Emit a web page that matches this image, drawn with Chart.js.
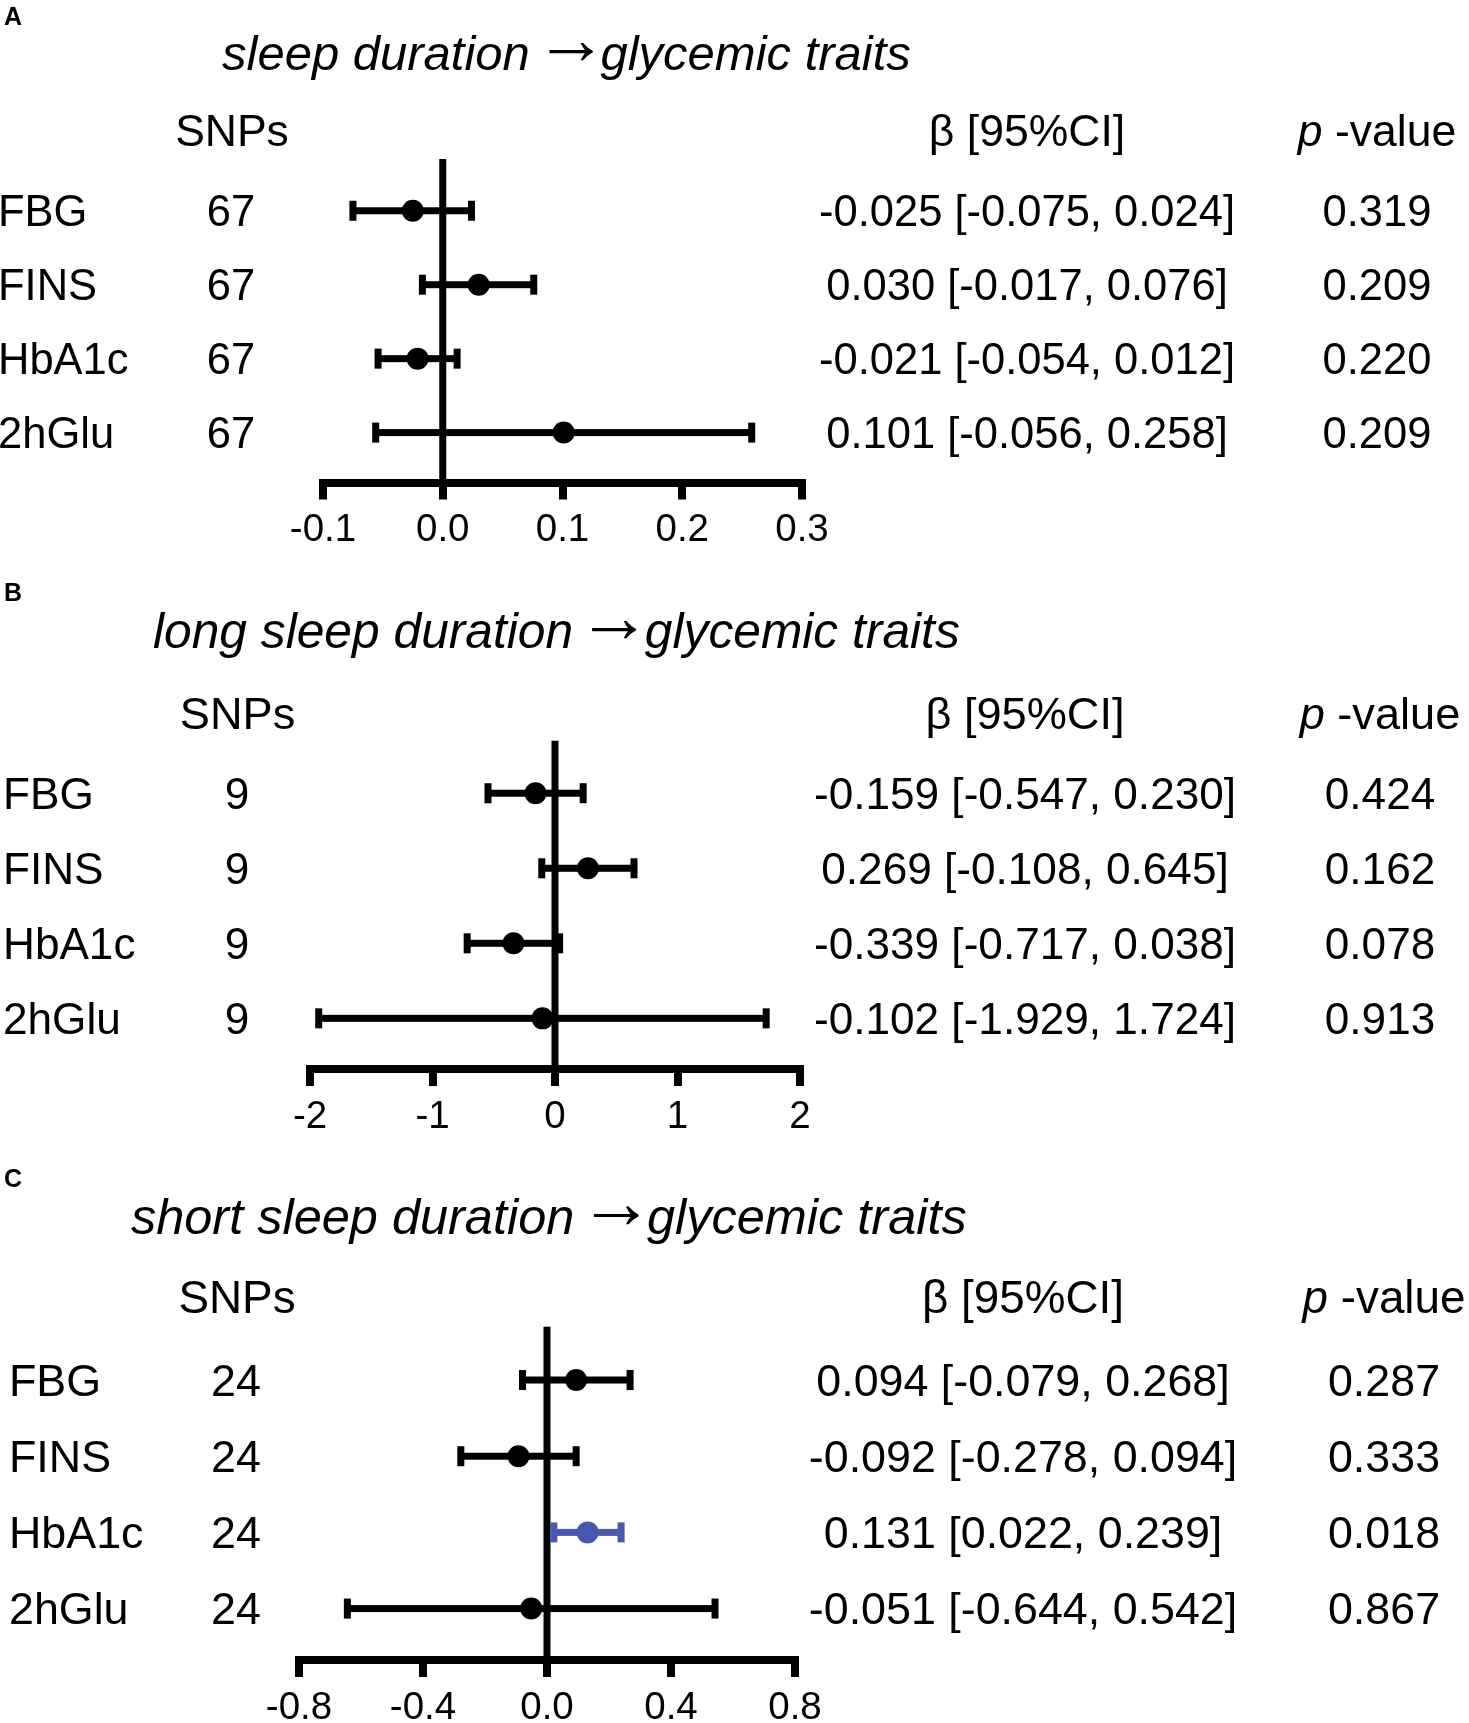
<!DOCTYPE html>
<html><head><meta charset="utf-8">
<script src="https://cdn.jsdelivr.net/npm/chart.js@4.4.1/dist/chart.umd.min.js"></script>
<style>
html,body{margin:0;padding:0;background:#fff;}
body{width:1469px;height:1723px;position:relative;overflow:hidden;}
canvas{position:absolute;left:0;}
</style></head><body>
<canvas id="cA"></canvas><canvas id="cB"></canvas><canvas id="cC"></canvas>
<script>
// ---------- data ----------
const traits = ['FBG', 'FINS', 'HbA1c', '2hGlu'];

const titleCauseA = 'sleep duration';
const titleCauseB = 'long sleep duration';
const titleCauseC = 'short sleep duration';
const titleArrow = '\u2192';
const titleOutcome = 'glycemic traits';

const snpsA = [67, 67, 67, 67];
const betaA = [-0.025, 0.030, -0.021, 0.101];
const lowA  = [-0.075, -0.017, -0.054, -0.056];
const highA = [0.024, 0.076, 0.012, 0.258];
const pA    = ['0.319', '0.209', '0.220', '0.209'];
const tickValsA = [-0.1, 0, 0.1, 0.2, 0.3];
const tickLabelsA = ['-0.1', '0.0', '0.1', '0.2', '0.3'];

const snpsB = [9, 9, 9, 9];
const betaB = [-0.159, 0.269, -0.339, -0.102];
const lowB  = [-0.547, -0.108, -0.717, -1.929];
const highB = [0.230, 0.645, 0.038, 1.724];
const pB    = ['0.424', '0.162', '0.078', '0.913'];
const tickValsB = [-2, -1, 0, 1, 2];
const tickLabelsB = ['-2', '-1', '0', '1', '2'];

const snpsC = [24, 24, 24, 24];
const betaC = [0.094, -0.092, 0.131, -0.051];
const lowC  = [-0.079, -0.278, 0.022, -0.644];
const highC = [0.268, 0.094, 0.239, 0.542];
const pC    = ['0.287', '0.333', '0.018', '0.867'];
const tickValsC = [-0.8, -0.4, 0, 0.4, 0.8];
const tickLabelsC = ['-0.8', '-0.4', '0.0', '0.4', '0.8'];
const significantC = [false, false, true, false];

// ---------- style / layout ----------
const BLACK = '#000000';
const BLUE = '#4858AC';
const FONT = '"Liberation Sans", Arial, Helvetica, sans-serif';

function fmt(v) { return v.toFixed(3); }

function makePanel(id, d, L) {
  const canvas = document.getElementById(id);
  canvas.width = 1469;
  canvas.height = L.height;
  canvas.style.top = L.top + 'px';
  const colors = d.beta.map((_, i) => (d.sig && d.sig[i]) ? BLUE : BLACK);
  const s = L.s;

  const forest = {
    id: 'forest_' + id,
    beforeDatasetsDraw(chart) {
      const { ctx, chartArea, scales } = chart;
      const x = scales.x, y = scales.y;
      ctx.save();
      const x0 = x.getPixelForValue(0);
      ctx.fillStyle = BLACK;
      ctx.fillRect(x0 - 3.5, chartArea.top, 7, chartArea.bottom - chartArea.top);
      for (let i = 0; i < d.beta.length; i++) {
        const yy = y.getPixelForValue(i);
        const xl = x.getPixelForValue(d.low[i]);
        const xh = x.getPixelForValue(d.high[i]);
        ctx.fillStyle = colors[i];
        ctx.fillRect(xl, yy - 3.5, xh - xl, 7);
        ctx.fillRect(xl - 3.5, yy - 10, 7, 20);
        ctx.fillRect(xh - 3.5, yy - 10, 7, 20);
      }
      ctx.restore();
    },
    afterDraw(chart) {
      const { ctx, scales } = chart;
      const y = scales.y;
      const off = L.top;
      ctx.save();
      ctx.fillStyle = BLACK;
      ctx.textBaseline = 'alphabetic';
      // panel letter
      ctx.font = 'bold 25px ' + FONT;
      ctx.textAlign = 'left';
      ctx.fillText(L.letter, 4, L.letterY - off + 9);
      // title: cause (italic) + arrow + outcome (italic)
      const ts = 49 * s;
      const ty = L.titleY - off;
      ctx.font = 'italic ' + ts + 'px ' + FONT;
      const cause = d.cause + ' ';
      ctx.fillText(cause, L.titleX, ty);
      const pe = L.titleX + ctx.measureText(cause).width;
      // arrow sized by its ink box
      ctx.font = '50px ' + FONT;
      let m = ctx.measureText(titleArrow);
      let inkW = (m.actualBoundingBoxRight + m.actualBoundingBoxLeft) || 30;
      const af = 50 * (44 * s) / inkW;
      ctx.font = af + 'px ' + FONT;
      m = ctx.measureText(titleArrow);
      const asc = m.actualBoundingBoxAscent, desc = m.actualBoundingBoxDescent;
      const ax = pe + 5 * s + m.actualBoundingBoxLeft;
      const ay = ty - 18 * s + (asc - desc) / 2;
      ctx.fillText(titleArrow, ax, ay);
      ctx.font = 'italic ' + ts + 'px ' + FONT;
      ctx.fillText(titleOutcome, pe + 57 * s, ty);
      // headers
      const hs = 44.5 * s;
      ctx.font = hs + 'px ' + FONT;
      ctx.textAlign = 'center';
      ctx.fillText('SNPs', L.snpX, L.headerY - off);
      ctx.fillText('\u03B2 [95%CI]', L.betaX, L.headerY - off);
      ctx.textAlign = 'left';
      ctx.font = 'italic ' + hs + 'px ' + FONT;
      const wp = ctx.measureText('p').width;
      ctx.font = hs + 'px ' + FONT;
      const wr = ctx.measureText(' -value').width;
      const startX = L.pX - (wp + wr) / 2;
      ctx.font = 'italic ' + hs + 'px ' + FONT;
      ctx.fillText('p', startX, L.headerY - off);
      ctx.font = hs + 'px ' + FONT;
      ctx.fillText(' -value', startX + wp, L.headerY - off);
      // rows
      const fl = 43.5 * s, fv = 43.5 * s;
      for (let i = 0; i < traits.length; i++) {
        const yy = y.getPixelForValue(i);
        ctx.font = fl + 'px ' + FONT;
        ctx.textAlign = 'left';
        ctx.fillText(traits[i], L.labelX, yy + 0.355 * fl);
        ctx.textAlign = 'center';
        ctx.fillText(String(d.snps[i]), L.countX, yy + 0.355 * fl);
        ctx.font = fv + 'px ' + FONT;
        ctx.fillText(fmt(d.beta[i]) + ' [' + fmt(d.low[i]) + ', ' + fmt(d.high[i]) + ']', L.betaX, yy + 0.355 * fv);
        ctx.fillText(d.p[i], L.pX, yy + 0.355 * fv);
      }
      ctx.restore();
    }
  };

  return new Chart(canvas, {
    type: 'scatter',
    data: {
      datasets: [{
        data: d.beta.map((b, i) => ({ x: b, y: i })),
        pointRadius: 11,
        pointHoverRadius: 11,
        pointBackgroundColor: colors,
        pointBorderColor: colors,
        pointBorderWidth: 0,
        showLine: false,
        clip: false
      }]
    },
    options: {
      responsive: false,
      animation: false,
      events: [],
      layout: {
        padding: {
          left: L.area.left,
          right: 1469 - L.area.right,
          top: L.area.top - L.top,
          bottom: L.height - (L.area.bottom - L.top) - 60
        }
      },
      plugins: { legend: { display: false }, tooltip: { enabled: false } },
      scales: {
        x: {
          type: 'linear',
          min: d.tickVals[0],
          max: d.tickVals[d.tickVals.length - 1],
          afterBuildTicks: (sc) => { sc.ticks = d.tickVals.map(v => ({ value: v })); },
          afterFit: (sc) => { sc.height = 60; },
          ticks: {
            callback: (v, i) => d.tickLabels[i],
            font: { family: FONT, size: 38.5 },
            color: BLACK,
            padding: 8,
            maxRotation: 0,
            autoSkip: false
          },
          grid: {
            drawOnChartArea: false,
            drawTicks: true,
            tickLength: 17,
            tickWidth: 8,
            tickColor: BLACK,
            color: BLACK,
            lineWidth: 8
          },
          border: { display: true, color: BLACK, width: 8 }
        },
        y: {
          type: 'linear',
          reverse: true,
          min: -0.7,
          max: 3.675,
          display: false
        }
      }
    },
    plugins: [forest]
  });
}

makePanel('cA',
  { cause: titleCauseA, snps: snpsA, beta: betaA, low: lowA, high: highA, p: pA, tickVals: tickValsA, tickLabels: tickLabelsA },
  { top: 0, height: 560, area: { left: 323, right: 802, top: 159, bottom: 482.5 }, letter: 'A', letterY: 16,
    titleX: 222, titleY: 70, labelX: -2, countX: 231, snpX: 232, betaX: 1027, pX: 1377, headerY: 146, s: 1.0 });

makePanel('cB',
  { cause: titleCauseB, snps: snpsB, beta: betaB, low: lowB, high: highB, p: pB, tickVals: tickValsB, tickLabels: tickLabelsB },
  { top: 560, height: 590, area: { left: 310, right: 800, top: 740.7, bottom: 1069 }, letter: 'B', letterY: 592,
    titleX: 153, titleY: 648, labelX: 3, countX: 237, snpX: 237.5, betaX: 1025, pX: 1380, headerY: 729, s: 1.015 });

makePanel('cC',
  { cause: titleCauseC, snps: snpsC, beta: betaC, low: lowC, high: highC, p: pC, tickVals: tickValsC, tickLabels: tickLabelsC, sig: significantC },
  { top: 1150, height: 573, area: { left: 299, right: 795, top: 1326.7, bottom: 1660 }, letter: 'C', letterY: 1178,
    titleX: 131, titleY: 1234, labelX: 9, countX: 236, snpX: 237, betaX: 1023, pX: 1384, headerY: 1313, s: 1.03 });
</script>
</body></html>
